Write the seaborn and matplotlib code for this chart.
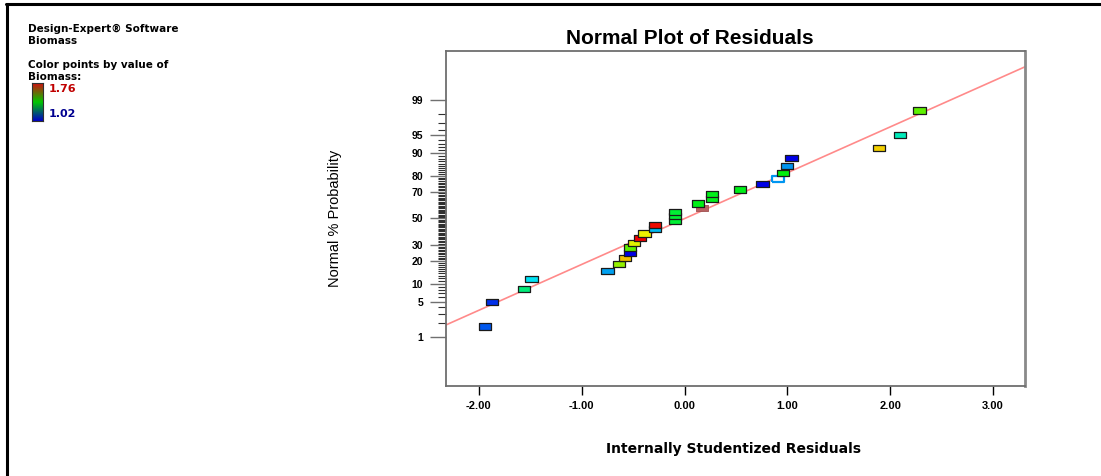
import numpy as np
import pandas as pd
import matplotlib
matplotlib.use("Agg")
import matplotlib.pyplot as plt
import seaborn as sns
from matplotlib.colors import LinearSegmentedColormap
from matplotlib.lines import Line2D
from matplotlib.ticker import FixedLocator, NullFormatter
from statistics import NormalDist

# ---------------- data ----------------
residuals = [-1.941, -1.870, -1.559, -1.487, -0.748, -0.636, -0.580, -0.532, -0.532, -0.490,
             -0.434, -0.389, -0.289, -0.289, -0.091, -0.091, -0.091, 0.171, 0.132, 0.268,
             0.268, 0.537, 0.758, 0.913, 0.958, 0.997, 1.040, 1.888, 2.095, 2.284]
probabilities = [1.67, 5.00, 8.33, 11.67, 15.00, 18.33, 21.67, 25.00, 28.33, 31.67,
                 35.00, 38.33, 41.67, 45.00, 48.33, 51.67, 55.00, 58.33, 61.67, 65.00,
                 68.33, 71.67, 75.00, 78.33, 81.67, 85.00, 88.33, 91.67, 95.00, 98.33]
biomass = [1.09, 1.06, 1.30, 1.20, 1.15, 1.50, 1.61, 1.02, 1.46, 1.56,
           1.76, 1.57, 1.17, 1.75, 1.35, 1.35, 1.35, 1.40, 1.375, 1.37,
           1.37, 1.37, 1.02, 1.14, 1.38, 1.14, 1.02, 1.60, 1.25, 1.46]
flagged_index = 17      # brownish point
selected_index = 23     # hollow point
biomass_range = [1.02, 1.76]

line_residuals = [-2.32, 3.31]
line_probabilities = [1.80, 99.86]

x_ticks = [-2.0, -1.0, 0.0, 1.0, 2.0, 3.0]
x_tick_labels = ["-2.00", "-1.00", "0.00", "1.00", "2.00", "3.00"]
y_major_ticks = [1, 5, 10, 20, 30, 50, 70, 80, 90, 95, 99]
y_minor_ticks = [p for p in range(1, 100) if p not in y_major_ticks]
x_limits = [-2.32, 3.31]
y_limits = [0.0483, 99.9517]

title = "Normal Plot of Residuals"
x_label = "Internally Studentized Residuals"
y_label = "Normal % Probability"
info_lines = ["Design-Expert\u00ae Software", "Biomass", "Color points by value of", "Biomass:"]

# ---------------- style ----------------
sns.set_style("white")
plt.rcParams['font.family'] = ['Liberation Sans', 'DejaVu Sans']
plt.rcParams['axes.unicode_minus'] = False
plt.rcParams['text.color'] = 'black'
plt.rcParams['xtick.labelcolor'] = 'black'
plt.rcParams['ytick.labelcolor'] = 'black'
WIDE = ['DejaVu Sans', 'Liberation Sans']

W, H = 1101, 476
fig = plt.figure(figsize=(W / 100, H / 100), dpi=100)
ax = fig.add_axes([446 / W, 1 - 386 / H, (1025 - 446) / W, (386 - 51) / H])

point_cmap = LinearSegmentedColormap.from_list(
    "de", ["#0000e8", "#00e8f4", "#00f000", "#f4f000", "#f00000"])
bar_cmap = LinearSegmentedColormap.from_list("debar", ["#0000c8", "#00c800", "#d01010"])

_nd = NormalDist()
_ppf = np.vectorize(_nd.inv_cdf, otypes=[float])
_cdf = np.vectorize(_nd.cdf, otypes=[float])


def fwd(p):
    p = np.clip(np.asarray(p, dtype=float) / 100.0, 1e-12, 1 - 1e-12)
    return _ppf(p)


def inv(z):
    return 100.0 * _cdf(np.asarray(z, dtype=float))


ax.set_yscale('function', functions=(fwd, inv))

df = pd.DataFrame({"residual": residuals, "probability": probabilities, "biomass": biomass})
special = [flagged_index, selected_index]
df_reg = df.drop(index=special)

rect = [(-1, -0.5), (1, -0.5), (1, 0.5), (-1, 0.5), (-1, -0.5)]

sns.lineplot(x=line_residuals, y=line_probabilities, color="#ff8a8a", lw=1.2, ax=ax, zorder=1)

# flagged point (brownish)
sns.scatterplot(data=df.iloc[[flagged_index]], x="residual", y="probability",
                color="#b86262", marker=rect, s=80, edgecolor="#a05050", linewidth=0.6,
                ax=ax, zorder=2, legend=False)
# regular points coloured by biomass
sns.scatterplot(data=df_reg, x="residual", y="probability", hue="biomass",
                palette=point_cmap, hue_norm=tuple(biomass_range), marker=rect, s=80,
                edgecolor="#1a1a1a", linewidth=0.9, ax=ax, zorder=3, legend=False)
# selected (hollow) point
sel_col = point_cmap((biomass[selected_index] - biomass_range[0]) / (biomass_range[1] - biomass_range[0]))
sns.scatterplot(data=df.iloc[[selected_index]], x="residual", y="probability",
                color="white", marker=rect, s=84, edgecolor=sel_col, linewidth=1.6,
                ax=ax, zorder=2.5, legend=False)

ax.set_xlim(*x_limits)
ax.set_ylim(*y_limits)

ax.xaxis.set_major_locator(FixedLocator(x_ticks))
ax.set_xticklabels(x_tick_labels)
ax.yaxis.set_major_locator(FixedLocator(y_major_ticks))
ax.set_yticklabels([str(v) for v in y_major_ticks])
ax.yaxis.set_minor_locator(FixedLocator(y_minor_ticks))
ax.yaxis.set_minor_formatter(NullFormatter())

ax.tick_params(axis='x', which='major', direction='out', length=6.5, width=1.0, color='black',
               pad=4, labelsize=8, labelcolor='black', bottom=True)
ax.tick_params(axis='y', which='major', direction='out', length=11.5, width=1.0, color='#707070',
               pad=5, labelsize=7.5, labelcolor='black', left=True)
ax.tick_params(axis='y', which='minor', direction='out', length=5.8, width=0.8, color='#303030',
               left=True)
for lab in ax.get_xticklabels() + ax.get_yticklabels():
    lab.set_fontweight('bold')

ax.set_xlabel("")
ax.set_ylabel("")
for side, sp in ax.spines.items():
    sp.set_visible(True)
    sp.set_color('#6e6e6e')
    sp.set_linewidth(1.3)
ax.spines['right'].set_linewidth(2.0)
ax.spines['right'].set_color('#8a8a8a')

# titles and labels
fig.text(690 / W, 1 - 39 / H, title, ha='center', va='center', fontsize=15, fontweight='bold',
         color='black')
fig.text(734 / W, 1 - 449 / H, x_label, ha='center', va='center', fontsize=10,
         fontweight='bold', family=WIDE, color='black')
fig.text(335 / W, 1 - 218 / H, y_label, ha='center', va='center', fontsize=10.5, rotation=90,
         color='black')

# info block top-left
info_y = [29, 41, 65, 77]
for txt, yy in zip(info_lines, info_y):
    fig.text(28 / W, 1 - yy / H, txt, ha='left', va='center', fontsize=7.5, fontweight='bold',
             family=WIDE, color='black')

cax = fig.add_axes([32 / W, 1 - 121 / H, 11 / W, 38 / H])
grad = np.linspace(biomass_range[1], biomass_range[0], 100).reshape(-1, 1)
cax.imshow(grad, aspect='auto', cmap=bar_cmap, vmin=biomass_range[0], vmax=biomass_range[1])
cax.set_xticks([])
cax.set_yticks([])
for sp in cax.spines.values():
    sp.set_color('#303030')
    sp.set_linewidth(0.8)
fig.text(49 / W, 1 - 89 / H, f"{biomass_range[1]:.2f}", ha='left', va='center', fontsize=8,
         fontweight='bold', color='#c00000', family=WIDE)
fig.text(49 / W, 1 - 114 / H, f"{biomass_range[0]:.2f}", ha='left', va='center', fontsize=8,
         fontweight='bold', color='#000090', family=WIDE)

# outer frame (left and top edges)
fig.add_artist(Line2D([7 / W, 7 / W], [0, 1 - 4.3 / H], transform=fig.transFigure,
                      color='black', lw=2.2))
fig.add_artist(Line2D([6 / W, 1], [1 - 4.3 / H, 1 - 4.3 / H], transform=fig.transFigure,
                      color='black', lw=2.2))

fig.savefig("out.png", dpi=100)
